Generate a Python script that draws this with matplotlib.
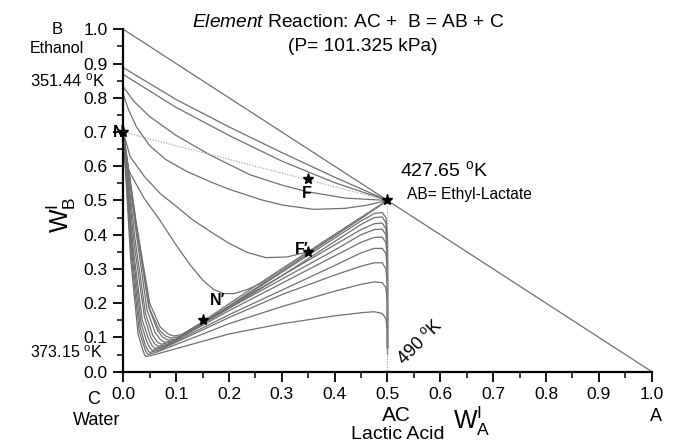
from matplotlib import pyplot as plt

plt.rcParams['font.family'] = ['Liberation Sans', 'DejaVu Sans']
plt.rcParams['mathtext.fontset'] = 'custom'
plt.rcParams['mathtext.rm'] = 'Liberation Sans'
plt.rcParams['mathtext.it'] = 'Liberation Sans:italic'

# upper curves, from the B-C edge to the AB node
s1_x = [0, 0.1, 0.2, 0.3, 0.4, 0.5]
s1_y = [0.888, 0.795, 0.715, 0.64, 0.568, 0.5]
s2_x = [0, 0.1, 0.2, 0.3, 0.4, 0.5]
s2_y = [0.868, 0.772, 0.69, 0.615, 0.552, 0.5]
a_x = [0, 0.02, 0.05, 0.1, 0.164, 0.24, 0.3, 0.347, 0.42, 0.5]
a_y = [0.832, 0.79, 0.745, 0.69, 0.633, 0.575, 0.545, 0.526, 0.507, 0.5]
b_x = [0, 0.01, 0.025, 0.05, 0.08, 0.12, 0.164, 0.2, 0.259, 0.3, 0.36, 0.42, 0.46, 0.5]
b_y = [0.81, 0.765, 0.715, 0.66, 0.62, 0.585, 0.555, 0.533, 0.503, 0.487, 0.474, 0.477, 0.486, 0.5]
c_x = [0, 0.013, 0.04, 0.07, 0.101, 0.13, 0.164, 0.2, 0.235, 0.27, 0.31, 0.35, 0.43, 0.5]
c_y = [0.70, 0.628, 0.57, 0.52, 0.482, 0.445, 0.41, 0.375, 0.348, 0.333, 0.335, 0.35, 0.43, 0.5]
d_x = [0, 0.006, 0.02, 0.04, 0.069, 0.1, 0.125, 0.15, 0.17, 0.19, 0.21, 0.235, 0.26, 0.3, 0.4, 0.5]
d_y = [0.70, 0.60, 0.56, 0.505, 0.443, 0.37, 0.315, 0.268, 0.241, 0.228, 0.228, 0.24, 0.258, 0.3, 0.4, 0.5]

# lower bundle going into the AB node
b1_x = [0, 0.025, 0.05, 0.07, 0.085, 0.095, 0.11, 0.15, 0.25, 0.35, 0.45, 0.5]
b1_y = [0.70, 0.43, 0.20, 0.13, 0.11, 0.104, 0.108, 0.145, 0.25, 0.35, 0.45, 0.5]
b2_x = [0, 0.025, 0.048, 0.068, 0.08, 0.09, 0.105, 0.15, 0.25, 0.35, 0.45, 0.5]
b2_y = [0.70, 0.425, 0.19, 0.122, 0.104, 0.098, 0.102, 0.14, 0.243, 0.345, 0.447, 0.5]

# lower bundle falling onto the AC corner (490 K)
k_x = [
    [0, 0.025, 0.05, 0.065, 0.075, 0.085, 0.10, 0.2, 0.3, 0.4, 0.45, 0.475, 0.49, 0.497, 0.5, 0.5],
    [0, 0.025, 0.045, 0.06, 0.07, 0.078, 0.095, 0.2, 0.3, 0.4, 0.45, 0.475, 0.49, 0.497, 0.5, 0.5],
    [0, 0.022, 0.042, 0.056, 0.065, 0.072, 0.09, 0.2, 0.3, 0.4, 0.45, 0.475, 0.49, 0.497, 0.5, 0.5],
    [0, 0.02, 0.04, 0.052, 0.06, 0.066, 0.085, 0.2, 0.3, 0.4, 0.45, 0.475, 0.49, 0.497, 0.5, 0.5],
    [0, 0.018, 0.036, 0.048, 0.055, 0.060, 0.08, 0.2, 0.3, 0.4, 0.45, 0.475, 0.49, 0.497, 0.5, 0.5],
    [0, 0.017, 0.034, 0.044, 0.05, 0.055, 0.075, 0.2, 0.3, 0.4, 0.45, 0.475, 0.49, 0.497, 0.5, 0.5],
    [0, 0.016, 0.032, 0.041, 0.046, 0.05, 0.07, 0.2, 0.3, 0.4, 0.45, 0.475, 0.49, 0.497, 0.5, 0.5],
    [0, 0.015, 0.03, 0.039, 0.043, 0.047, 0.065, 0.2, 0.3, 0.4, 0.45, 0.475, 0.49, 0.497, 0.5, 0.5],
    [0, 0.014, 0.028, 0.036, 0.04, 0.044, 0.06, 0.2, 0.3, 0.4, 0.45, 0.475, 0.49, 0.497, 0.5, 0.5],
]
k_y = [
    [0.70, 0.42, 0.18, 0.12, 0.10, 0.092, 0.095, 0.19, 0.29, 0.39, 0.44, 0.462, 0.465, 0.45, 0.40, 0.07],
    [0.70, 0.40, 0.18, 0.115, 0.094, 0.086, 0.09, 0.185, 0.28, 0.38, 0.43, 0.45, 0.452, 0.435, 0.38, 0.07],
    [0.70, 0.39, 0.17, 0.105, 0.086, 0.080, 0.086, 0.19, 0.28, 0.37, 0.415, 0.432, 0.434, 0.418, 0.36, 0.07],
    [0.70, 0.38, 0.16, 0.10, 0.08, 0.074, 0.08, 0.185, 0.27, 0.355, 0.40, 0.415, 0.416, 0.40, 0.34, 0.07],
    [0.70, 0.37, 0.15, 0.095, 0.075, 0.068, 0.075, 0.178, 0.258, 0.338, 0.378, 0.392, 0.393, 0.377, 0.32, 0.07],
    [0.70, 0.36, 0.14, 0.09, 0.07, 0.062, 0.07, 0.166, 0.238, 0.31, 0.347, 0.36, 0.36, 0.345, 0.29, 0.07],
    [0.70, 0.35, 0.13, 0.08, 0.063, 0.056, 0.064, 0.158, 0.225, 0.282, 0.308, 0.318, 0.318, 0.30, 0.25, 0.07],
    [0.70, 0.34, 0.12, 0.075, 0.057, 0.05, 0.058, 0.14, 0.19, 0.235, 0.255, 0.262, 0.26, 0.245, 0.2, 0.07],
    [0.70, 0.33, 0.11, 0.068, 0.05, 0.044, 0.05, 0.11, 0.14, 0.163, 0.172, 0.175, 0.17, 0.155, 0.12, 0.05],
]

# dotted construction lines
nf_x, nf_y = [0, 0.5], [0.70, 0.5]
diag_x, diag_y = [0.15, 0.5], [0.15, 0.5]
vert_x, vert_y = [0.5, 0.5], [0.5, 0.0]

# star points N, F, AB, F', N'
star_x = [0, 0.35, 0.5, 0.35, 0.15]
star_y = [0.70, 0.563, 0.5, 0.35, 0.15]

fig = plt.figure(figsize=(6.81, 4.44), dpi=100)
ax = fig.add_axes([0.181, 0.163, 0.776, 0.771])

grey = '#707070'
ax.plot([0, 1], [1, 0], color=grey, lw=0.9, clip_on=False)
for xs, ys in [(s1_x, s1_y), (s2_x, s2_y), (a_x, a_y), (b_x, b_y),
               (c_x, c_y), (d_x, d_y), (b1_x, b1_y), (b2_x, b2_y)]:
    ax.plot(xs, ys, color=grey, lw=0.9, clip_on=False)
for xs, ys in zip(k_x, k_y):
    ax.plot(xs, ys, color=grey, lw=0.9, clip_on=False)

for xs, ys in [(nf_x, nf_y), (diag_x, diag_y), (vert_x, vert_y)]:
    ax.plot(xs, ys, color='#999999', lw=0.8, ls=(0, (1, 1.5)), clip_on=False)

ax.plot(star_x, star_y, ls='none', marker='*', color='black', ms=8, clip_on=False, zorder=5)

ax.set_xlim(0, 1)
ax.set_ylim(0, 1)
ax.spines['top'].set_visible(False)
ax.spines['right'].set_visible(False)
for s in ['left', 'bottom']:
    ax.spines[s].set_linewidth(1.6)
ax.set_xticks([i / 10 for i in range(11)])
ax.set_yticks([i / 10 for i in range(11)])
ax.set_xticks([i / 20 for i in range(1, 20, 2)], minor=True)
ax.set_yticks([i / 20 for i in range(1, 20, 2)], minor=True)
ax.xaxis.set_major_formatter(plt.FormatStrFormatter('%.1f'))
ax.yaxis.set_major_formatter(plt.FormatStrFormatter('%.1f'))
ax.tick_params(which='major', direction='out', length=7, width=1.3, labelsize=12.5, pad=4)
ax.tick_params(which='minor', direction='out', length=4, width=1.1)

# titles and annotations
ax.text(0.426, 1.021, r'$\it{Element}$ Reaction: AC +  B = AB + C', ha='center', va='center', fontsize=13.8)
ax.text(0.4535, 0.951, '(P= 101.325 kPa)', ha='center', va='center', fontsize=13.8)

ax.text(-0.125, 1.0, 'B', ha='center', va='center', fontsize=12)
ax.text(-0.125, 0.943, 'Ethanol', ha='center', va='center', fontsize=11.5)
ax.text(-0.106, 0.852, r'351.44 $^{\mathrm{o}}$K', ha='center', va='center', fontsize=12)
ax.text(-0.108, 0.055, r'373.15 $^{\mathrm{o}}$K', ha='center', va='center', fontsize=11.5)
ax.text(-0.057, -0.08, 'C', ha='center', va='center', fontsize=13)
ax.text(-0.05, -0.143, 'Water', ha='center', va='center', fontsize=13)
ax.text(0.517, -0.128, 'AC', ha='center', va='center', fontsize=15)
ax.text(0.52, -0.183, 'Lactic Acid', ha='center', va='center', fontsize=14)
ax.text(1.008, -0.13, 'A', ha='center', va='center', fontsize=13)
ax.text(0.66, -0.145, r'W$^{\mathrm{I}}_{\mathrm{A}}$', ha='center', va='center', fontsize=18)
ax.text(-0.118, 0.457, r'W$^{\mathrm{I}}_{\mathrm{B}}$', ha='center', va='center', fontsize=18, rotation=90)

ax.text(0.607, 0.589, r'427.65 $^{\mathrm{o}}$K', ha='center', va='center', fontsize=14)
ax.text(0.656, 0.516, 'AB= Ethyl-Lactate', ha='center', va='center', fontsize=11.2)
ax.text(0.561, 0.087, r'490 $^{\mathrm{o}}$K', ha='center', va='center', fontsize=13, rotation=45)

ax.text(-0.008, 0.70, 'N', ha='center', va='center', fontsize=11.5, fontweight='bold')
ax.text(0.348, 0.521, 'F', ha='center', va='center', fontsize=11.5, fontweight='bold')
ax.text(0.337, 0.356, 'F\u2032', ha='center', va='center', fontsize=11.5, fontweight='bold')
ax.text(0.178, 0.209, 'N\u2032', ha='center', va='center', fontsize=11.5, fontweight='bold')

fig.savefig('out.png', dpi=100)
